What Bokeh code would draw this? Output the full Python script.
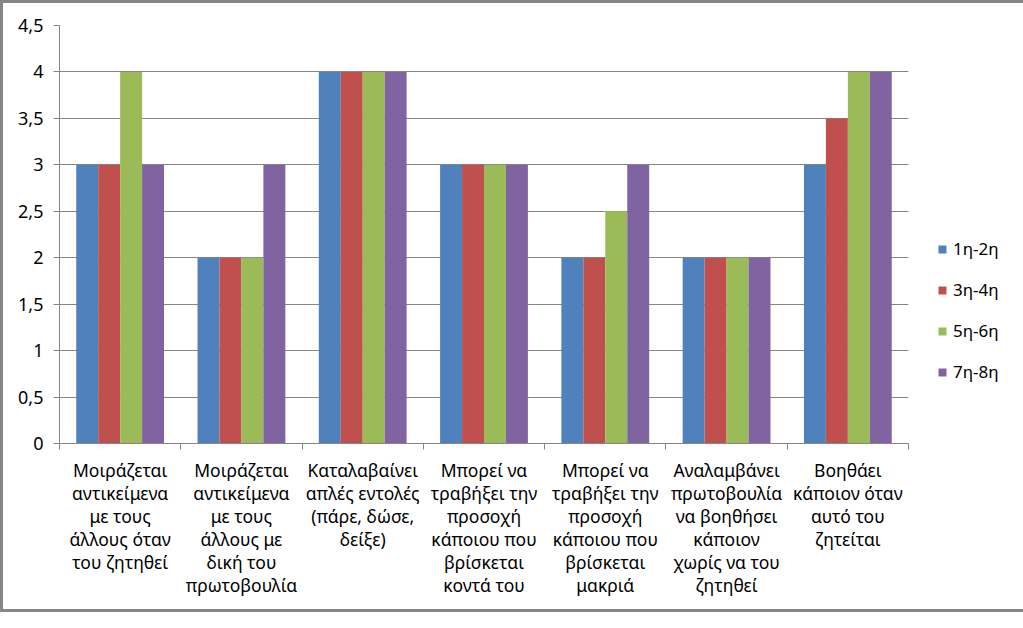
from bokeh.plotting import figure
from bokeh.models import (FixedTicker, SingleIntervalTicker, CustomJSTickFormatter,
                          Legend, LegendItem, Range1d, ColumnDataSource)
from bokeh.embed import file_html
from bokeh.resources import INLINE

categories = [
    "Μοιράζεται\nαντικείμενα\nμε τους\nάλλους όταν\nτου ζητηθεί",
    "Μοιράζεται\nαντικείμενα\nμε τους\nάλλους με\nδική του\nπρωτοβουλία",
    "Καταλαβαίνει\nαπλές εντολές\n(πάρε, δώσε,\nδείξε)",
    "Μπορεί να\nτραβήξει την\nπροσοχή\nκάποιου που\nβρίσκεται\nκοντά του",
    "Μπορεί να\nτραβήξει την\nπροσοχή\nκάποιου που\nβρίσκεται\nμακριά",
    "Αναλαμβάνει\nπρωτοβουλία\nνα βοηθήσει\nκάποιον\nχωρίς να του\nζητηθεί",
    "Βοηθάει\nκάποιον όταν\nαυτό του\nζητείται",
]
series_names = ["1η-2η", "3η-4η", "5η-6η", "7η-8η"]
values_1_2 = [3, 2, 4, 3, 2, 2, 3]
values_3_4 = [3, 2, 4, 3, 2, 2, 3.5]
values_5_6 = [4, 2, 4, 3, 2.5, 2, 4]
values_7_8 = [3, 3, 4, 3, 3, 2, 4]
colors = ["#4F81BD", "#C0504D", "#9BBB59", "#8064A2"]

all_values = [values_1_2, values_3_4, values_5_6, values_7_8]
n = len(categories)
bar_w = 0.181

FW, FH = 849, 418
L, T, R = 56, 22, 96
B = 606 - T - FH

p = figure(frame_width=FW, frame_height=FH, output_backend="svg", toolbar_location=None,
           x_range=Range1d(0, n), y_range=Range1d(0, 4.5),
           min_border_left=L, min_border_top=T, min_border_bottom=B,
           min_border_right=R)
p.styles = {"border": "3px solid #868686"}
p.outline_line_color = None
p.background_fill_color = "white"
p.border_fill_color = "white"

items = []
for k, (name, vals, col) in enumerate(zip(series_names, all_values, colors)):
    off = (k - 1.5) * bar_w
    src = ColumnDataSource(dict(x=[i + 0.5 + off for i in range(n)], top=vals))
    r = p.vbar(x="x", top="top", width=bar_w, bottom=0, source=src,
               fill_color=col, line_color=None)
    items.append(LegendItem(label=name, renderers=[r]))

grey = "#868686"
p.xgrid.grid_line_color = None
p.ygrid.grid_line_color = grey
p.ygrid.ticker = SingleIntervalTicker(interval=0.5)

xa = p.xaxis[0]
xa.ticker = FixedTicker(ticks=[i + 0.5 for i in range(n)], minor_ticks=list(range(n + 1)))
xa.formatter = CustomJSTickFormatter(args=dict(labels=categories),
                                     code="return labels[Math.floor(tick)];")
xa.major_tick_line_color = None
xa.minor_tick_line_color = grey
xa.minor_tick_in = 0
xa.minor_tick_out = 6
xa.axis_line_color = grey
xa.major_label_text_font = "Noto Sans"
xa.major_label_text_font_size = "17.5px"
xa.major_label_text_color = "black"
xa.major_label_text_line_height = 0.96
xa.major_label_standoff = 8

ya = p.yaxis[0]
ya.ticker = SingleIntervalTicker(interval=0.5)
ya.formatter = CustomJSTickFormatter(code="return tick.toString().replace('.', ',');")
ya.minor_tick_line_color = None
ya.major_tick_line_color = grey
ya.major_tick_in = 0
ya.major_tick_out = 6
ya.axis_line_color = grey
ya.major_label_text_font = "Noto Sans"
ya.major_label_text_font_size = "18px"
ya.major_label_text_color = "black"
ya.major_label_standoff = 10

legend = Legend(items=items, location=(29, 60), orientation="vertical",
                glyph_width=10, glyph_height=10, label_height=20, spacing=18,
                label_standoff=6, padding=0, margin=0,
                label_text_font="Noto Sans", label_text_font_size="17px",
                label_text_color="black",
                border_line_color=None, background_fill_alpha=0)
p.add_layout(legend, "right")

open("out.html", "w").write(file_html(p, INLINE))
